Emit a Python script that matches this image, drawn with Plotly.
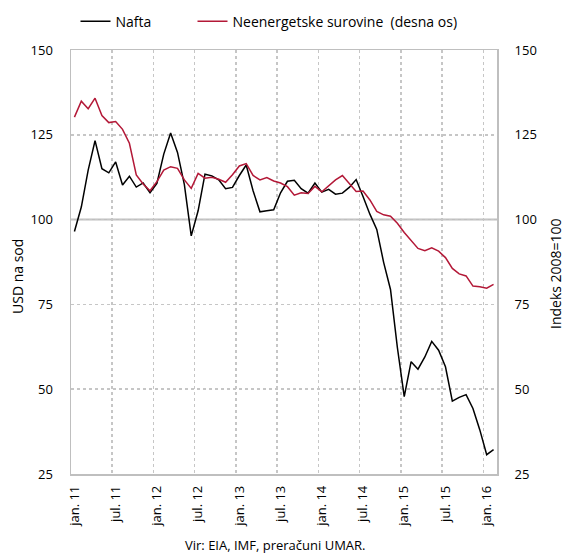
import plotly.graph_objects as go

# Monthly data, jan. 2011 - feb. 2016
months = [f"{m}.{y}" for y in range(2011, 2017) for m in range(1, 13)][:62]

nafta = [96.5, 103.7, 114.6, 123.3, 115.0, 113.8, 117.0, 110.2, 112.8, 109.6, 110.8, 107.9,
         110.7, 119.3, 125.5, 119.8, 110.3, 95.2, 102.6, 113.4, 112.9, 111.7, 109.1, 109.5,
         113.0, 116.1, 108.5, 102.3, 102.6, 102.9, 107.9, 111.3, 111.6, 109.1, 107.8, 110.8,
         108.1, 108.9, 107.5, 107.8, 109.5, 111.8, 106.8, 101.6, 97.1, 87.4, 79.4, 62.3,
         47.8, 58.1, 55.9, 59.5, 64.1, 61.5, 56.6, 46.5, 47.6, 48.4, 44.3, 38.0,
         30.7, 32.2]

neenergetske = [130.2, 134.9, 132.7, 135.8, 130.7, 128.6, 128.9, 126.6, 122.5, 113.2, 110.5, 108.5,
                111.2, 114.6, 115.6, 115.1, 111.7, 109.2, 113.6, 112.2, 112.5, 111.9, 111.0, 113.2,
                115.8, 116.5, 113.0, 111.7, 112.4, 111.4, 110.8, 109.7, 107.2, 107.9, 107.7, 109.8,
                108.2, 109.9, 111.7, 113.0, 110.8, 108.3, 108.4, 105.8, 102.4, 101.4, 101.0, 98.9,
                96.2, 93.8, 91.5, 90.8, 91.7, 90.7, 88.8, 85.6, 84.0, 83.4, 80.4, 80.2,
                79.8, 80.9]

tick_labels = ["jan. 11", "jul. 11", "jan. 12", "jul. 12", "jan. 13", "jul. 13",
               "jan. 14", "jul. 14", "jan. 15", "jul. 15", "jan. 16"]
y_ticks = [25, 50, 75, 100, 125, 150]

x = list(range(len(months)))
tick_pos = [i * 6 for i in range(len(tick_labels))]
grid_pos = [p - 0.5 for p in tick_pos[1:]]      # gridlines sit on category boundaries

FONT = "Open Sans"
GRID = "#c6c6c6"
FRAME = "#bfbfbf"

fig = go.Figure()
fig.add_trace(go.Scatter(x=x, y=nafta, name="Nafta", mode="lines", legend="legend",
                         line=dict(color="#000000", width=1.5)))
fig.add_trace(go.Scatter(x=x, y=neenergetske, name="Neenergetske surovine  (desna os)",
                         mode="lines", yaxis="y2", legend="legend2",
                         line=dict(color="#b31837", width=1.5)))

fig.add_shape(type="line", xref="paper", x0=0, x1=1, yref="y", y0=100, y1=100,
              line=dict(color=FRAME, width=2), layer="below")

legend_common = dict(orientation="h", xanchor="left", y=1.067, yanchor="middle",
                     font=dict(size=14), bgcolor="rgba(0,0,0,0)", itemclick=False,
                     itemdoubleclick=False)

fig.update_layout(
    width=565, height=554,
    margin=dict(l=71, r=68, t=50, b=80, autoexpand=False),
    paper_bgcolor="white", plot_bgcolor="white",
    font=dict(family=FONT, size=13, color="#000000"),
    showlegend=True, hovermode=False,
    legend=dict(x=(75.5 - 71) / 426, **legend_common),
    legend2=dict(x=(192.5 - 71) / 426, **legend_common),
    xaxis=dict(range=[-0.5, len(months) - 0.5], tickmode="array", tickvals=tick_pos,
               ticktext=tick_labels, tickangle=-90, showgrid=False, zeroline=False,
               showline=True, linecolor=FRAME, linewidth=1.5, mirror=True,
               ticks="outside", ticklen=5, tickcolor="rgba(0,0,0,0)",
               minor=dict(tickmode="array", tickvals=grid_pos, showgrid=True,
                          gridcolor=GRID, griddash="dot", gridwidth=1.5, ticks="")),
    yaxis=dict(range=[25, 150], tickmode="array", tickvals=y_ticks,
               showgrid=True, gridcolor=GRID, griddash="dot", gridwidth=1.5,
               zeroline=False, showline=True, linecolor=FRAME,
               linewidth=1.5, mirror=True, ticks="outside", ticklen=14,
               tickcolor="rgba(0,0,0,0)"),
    yaxis2=dict(range=[25, 150], tickmode="array", tickvals=y_ticks, overlaying="y",
                side="right", showgrid=False, zeroline=False, showline=False,
                ticks="outside", ticklen=14, tickcolor="rgba(0,0,0,0)"),
    annotations=[
        dict(text="USD na sod", textangle=-90, xref="paper", yref="paper",
             x=(17 - 71) / 426, y=(474 - 277) / 424, showarrow=False,
             xanchor="center", yanchor="middle", font=dict(size=14)),
        dict(text="Indeks 2008=100", textangle=-90, xref="paper", yref="paper",
             x=(555 - 71) / 426, y=(474 - 274) / 424, showarrow=False,
             xanchor="center", yanchor="middle", font=dict(size=14)),
        dict(text="Vir: EIA, IMF, preračuni UMAR.", xref="paper", yref="paper",
             x=(275 - 71) / 426, y=(474 - 545) / 424, showarrow=False,
             xanchor="center", yanchor="middle", font=dict(size=13)),
    ],
)

fig.write_html("out.html", config={"displayModeBar": False, "staticPlot": True})

# remove the default page margin so the figure sits at the window's top-left corner
with open("out.html", "r", encoding="utf-8") as f:
    html = f.read()
html = html.replace("<body>", '<body style="margin:0;padding:0;overflow:hidden;">', 1)
with open("out.html", "w", encoding="utf-8") as f:
    f.write(html)
